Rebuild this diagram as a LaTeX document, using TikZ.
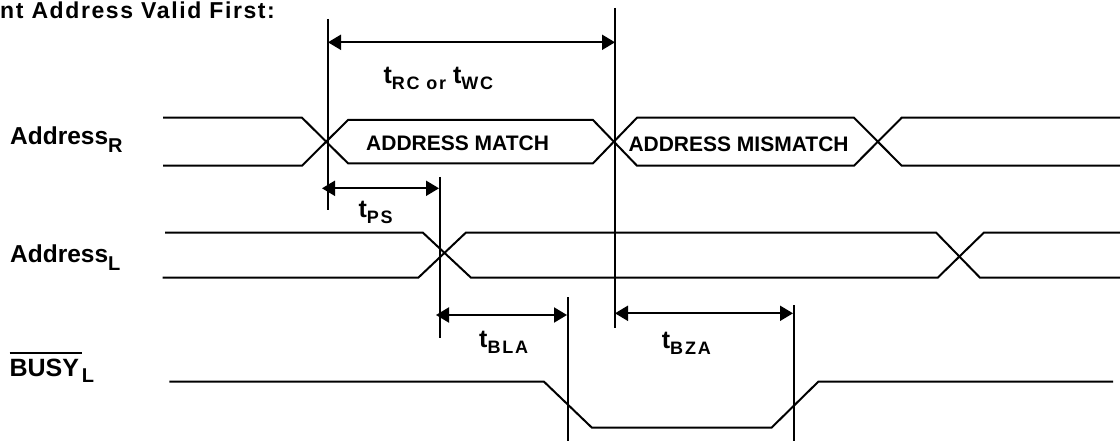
\documentclass[tikz,border=0pt]{standalone}
\usepackage{fontspec}
\setmainfont{Liberation Sans}
\newfontfamily\subfont[LetterSpace=10]{Liberation Sans}
\newfontfamily\titlefont[LetterSpace=7]{Liberation Sans}
\usetikzlibrary{arrows.meta}
\newcommand{\tlab}[1]{{\fontsize{25}{25}\selectfont t}\raisebox{-5.5pt}{\subfont\bfseries\fontsize{18}{18}\selectfont #1}}
\newcommand{\siglab}[2]{{\fontsize{24.5}{24.5}\selectfont #1}\raisebox{-7.5pt}{\fontsize{20}{20}\selectfont #2}}
\newcommand{\ovl}[1]{\vbox{\hrule height 2pt\kern5pt\hbox{#1\kern3pt}}}
\tikzset{
  sig/.style={line width=2pt, line join=miter},
  vline/.style={line width=2pt},
  dim/.style={line width=2pt, {Triangle[length=13pt,width=15pt]}-{Triangle[length=13pt,width=15pt]}},
  lab/.style={anchor=base west, inner sep=0pt, font=\bfseries},
}
\begin{document}
\begin{tikzpicture}[x=1pt,y=-1pt]
\useasboundingbox (0,0) rectangle (1120,441);
% title
\node[lab] (title) at (0,18.3) {\titlefont\bfseries\fontsize{23}{23}\selectfont nt Address Valid First:};
% signal labels
\node[lab] (addrR) at (10,145) {\siglab{Address}{R}};
\node[lab] (addrL) at (10,262.5) {\siglab{Address}{L}};
\node[lab] (busy) at (9.3,376) {{\fontsize{25}{25}\selectfont\ovl{BUSY}}\raisebox{-6.7pt}{\fontsize{20}{20}\selectfont L}};
% Address_R waveform
\draw[sig] (163,117.7) -- (302,117.7) -- (348,163.3) -- (593,163.3) -- (637,117.7) -- (854,117.7) -- (901.7,165.7) -- (1120,165.7);
\draw[sig] (163,165.7) -- (302,165.7) -- (348,120) -- (593,120) -- (637,165.7) -- (854,165.7) -- (901.7,117.7) -- (1120,117.7);
\node[lab] (match) at (366,151) {\fontsize{21}{21}\selectfont ADDRESS MATCH};
\node[lab] (mismatch) at (628.3,151.7) {\fontsize{21}{21}\selectfont ADDRESS MISMATCH};
% Address_L waveform
\draw[sig] (165,232.5) -- (422.7,232.5) -- (471,277.7) -- (937.7,277.7) -- (984,232.5) -- (1120,232.5);
\draw[sig] (162.7,277.7) -- (418.3,277.7) -- (466,232.5) -- (936,232.5) -- (980,277.7) -- (1120,277.7);
% BUSY_L waveform
\draw[sig] (169.3,381.7) -- (544,381.7) -- (591.7,427.5) -- (771.7,427.5) -- (818.3,381.7) -- (1113,381.7);
% vertical reference lines
\coordinate (v1t) at (328,19);   \coordinate (v1b) at (328,210);
\coordinate (v2t) at (615,8);    \coordinate (v2b) at (615,328);
\coordinate (v3t) at (440,177);  \coordinate (v3b) at (440,338);
\coordinate (v4t) at (568,297);  \coordinate (v4b) at (568,441);
\coordinate (v5t) at (794,305);  \coordinate (v5b) at (794,441);
\draw[vline] (v1t) -- (v1b);
\draw[vline] (v2t) -- (v2b);
\draw[vline] (v3t) -- (v3b);
\draw[vline] (v4t) -- (v4b);
\draw[vline] (v5t) -- (v5b);
% dimension arrows
\coordinate (rcL) at (328,42.3);  \coordinate (rcR) at (615,42.3);
\coordinate (psL) at (322,188.3); \coordinate (psR) at (439,188.3);
\coordinate (blaL) at (436,315);  \coordinate (blaR) at (567,315);
\coordinate (bzaL) at (615,313.3); \coordinate (bzaR) at (793,313.3);
\draw[dim] (rcL) -- (rcR);
\draw[dim] (psL) -- (psR);
\draw[dim] (blaL) -- (blaR);
\draw[dim] (bzaL) -- (bzaR);
% timing labels
\node[lab] (tRC) at (383.3,83.8) {\tlab{RC or\ }\tlab{WC}};
\node[lab] (tPS) at (358.3,217.7) {\tlab{PS}};
\node[lab] (tBLA) at (479,347.5) {\tlab{BLA}};
\node[lab] (tBZA) at (661.7,348.5) {\tlab{BZA}};
\end{tikzpicture}
\end{document}
